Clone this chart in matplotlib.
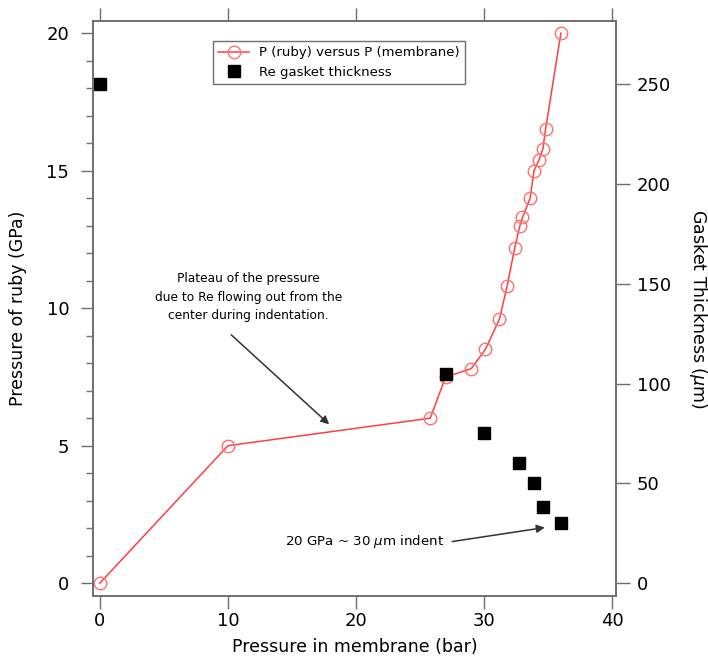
import numpy as np
import matplotlib
matplotlib.use("Agg")
import matplotlib.pyplot as plt
from matplotlib.ticker import MultipleLocator

# ruby pressure against membrane pressure
membrane = [0, 10, 25.8, 27.0, 29.0, 30.1, 31.2, 31.8, 32.4, 32.8, 33.0,
            33.6, 33.9, 34.3, 34.6, 34.8, 36.0]
ruby = [0, 5, 6.0, 7.5, 7.8, 8.5, 9.6, 10.8, 12.2, 13.0, 13.3,
        14.0, 15.0, 15.4, 15.8, 16.5, 20.0]

# Re gasket thickness (um)
gasket_x = [0, 27, 30, 32.7, 33.9, 34.6, 36]
gasket_t = [250, 105, 75, 60, 50, 38, 30]

plt.rcParams['font.family'] = ['DejaVu Sans']
spine_c = '#6e6e6e'
red = '#ff4040'

fig = plt.figure(figsize=(7.08, 6.58), dpi=100)
ax = fig.add_axes([0.131, 0.094, 0.739, 0.874])
ax2 = ax.twinx()

l1, = ax.plot(membrane, ruby, '-', color=red, lw=1.1, marker='o', ms=9,
              mfc='none', mec='#ff7070', mew=1.0,
              label='P (ruby) versus P (membrane)')
l2, = ax2.plot(gasket_x, gasket_t, 's', color='black', ms=8.5,
               label='Re gasket thickness')

ax.set_xlim(-0.55, 40.3)
ax.set_ylim(-0.47, 20.44)
ax2.set_ylim(-6.5, 281.6)

ax.xaxis.set_major_locator(MultipleLocator(10))
ax.yaxis.set_major_locator(MultipleLocator(5))
ax.yaxis.set_minor_locator(MultipleLocator(1))
ax2.yaxis.set_major_locator(MultipleLocator(50))

ax.tick_params(axis='x', which='major', direction='out', length=9.5, width=1,
               color=spine_c, top=True, labelsize=13, pad=2)
ax.tick_params(axis='y', which='major', direction='out', length=9, width=1,
               color=spine_c, labelsize=13, pad=8)
ax.tick_params(axis='y', which='minor', direction='out', length=5, width=1,
               color=spine_c)
ax2.tick_params(axis='y', direction='out', length=10, width=1,
                color=spine_c, labelsize=13, pad=5)

for a in (ax, ax2):
    for s in a.spines.values():
        s.set_color(spine_c)
        s.set_linewidth(1.2)

ax.set_xlabel('Pressure in membrane (bar)', fontsize=12.5, labelpad=6)
ax.set_ylabel('Pressure of ruby (GPa)', fontsize=12.5, labelpad=14)
ax2.set_ylabel(r'Gasket Thickness ($\mu$m)', fontsize=12.5, rotation=-90,
               labelpad=27)

leg = ax.legend(handles=[l1, l2], loc='upper left',
                bbox_to_anchor=(0.23, 0.965), fontsize=9.5, fancybox=False,
                edgecolor=spine_c, framealpha=1, borderpad=0.4,
                handlelength=2.3, labelspacing=0.5, borderaxespad=0)
leg.get_frame().set_linewidth(1.0)

ax.text(11.6, 10.4, 'Plateau of the pressure\ndue to Re flowing out from the\n'
        'center during indentation.', ha='center', va='center',
        fontsize=8.8, linespacing=1.55)
ax.annotate('', xy=(18.07, 5.71), xytext=(10.1, 9.1),
            arrowprops=dict(arrowstyle='-|>', color='#333333', lw=1.1,
                            mutation_scale=12))

ax.text(26.9, 1.53, r'20 GPa ~ 30 $\mu$m indent', ha='right', va='center',
        fontsize=9.6)
ax.annotate('', xy=(34.96, 2.04), xytext=(27.3, 1.5),
            arrowprops=dict(arrowstyle='-|>', color='#333333', lw=1.1,
                            mutation_scale=12))

fig.savefig('out.png', dpi=100)
